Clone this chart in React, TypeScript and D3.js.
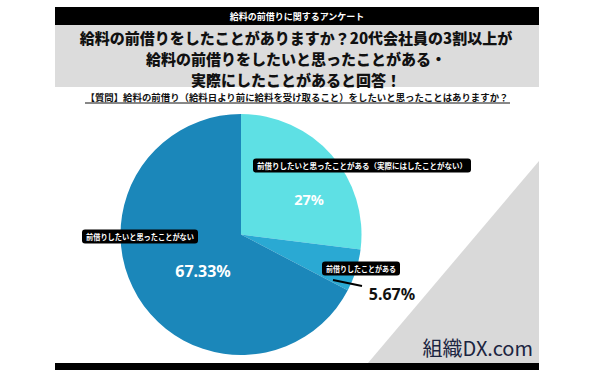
import React from "react";
import * as d3 from "d3";

const headerText = "給料の前借りに関するアンケート";
const titleLines = [
  "給料の前借りをしたことがありますか？20代会社員の3割以上が",
  "給料の前借りをしたいと思ったことがある・",
  "実際にしたことがあると回答！",
];
const questionText = "【質問】給料の前借り（給料日より前に給料を受け取ること）をしたいと思ったことはありますか？";
const categories = [
  "前借りしたいと思ったことがある（実際にはしたことがない）",
  "前借りしたことがある",
  "前借りしたいと思ったことがない",
];
const values = [27, 5.67, 67.33];
const valueLabels = ["27%", "5.67%", "67.33%"];
const colors = ["#5ee0e4", "#2aa9d3", "#1b87ba"];
const logoText = "組織DX.com";

const W = 590;
const H = 383;
const FONT = "'Noto Sans CJK JP', 'Noto Sans', sans-serif";

// label layout (offsets relative to pie center)
const labelLayout = [
  { bx: 121, by: -69, vx: 68, vy: -36, vColor: "#ffffff", tw: 210 },
  { bx: 120, by: 34, vx: 151, vy: 59, vColor: "#111111", tw: 70 },
  { bx: -101, by: 2, vx: -38, vy: 36, vColor: "#ffffff", tw: 108 },
];

export default function App() {
  const cx = 241;
  const cy = 234.5;
  const r = 120.5;
  const pie = d3
    .pie<number>()
    .sort(null)
    .value((d) => d)
    .startAngle(0)
    .endAngle(2 * Math.PI);
  const arcs = pie(values);
  const arcGen = d3.arc<d3.PieArcDatum<number>>().innerRadius(0).outerRadius(r);

  const frameX0 = 55;
  const frameX1 = 539;
  const frameCx = (frameX0 + frameX1) / 2;

  return (
    <svg
      width={W}
      height={H}
      style={{ position: "absolute", left: 0, top: 0, background: "#fff" }}
      fontFamily={FONT}
    >
      <rect x={0} y={0} width={W} height={H} fill="#fff" />
      {/* header */}
      <rect x={frameX0} y={7} width={frameX1 - frameX0} height={18} fill="#000" />
      <text x={frameCx} y={16} fill="#fff" fontSize={9} fontWeight={700} textAnchor="middle" dominantBaseline="central">
        {headerText}
      </text>
      <rect x={frameX0} y={25} width={frameX1 - frameX0} height={62} fill="#dcdcdc" />
      {titleLines.map((t, i) => (
        <text
          key={i}
          x={frameCx - 1}
          y={37 + i * 21}
          fill="#111"
          fontSize={15}
          fontWeight={900}
          textAnchor="middle"
          dominantBaseline="central"
        >
          {t}
        </text>
      ))}
      <text
        x={frameCx}
        y={97}
        fill="#111"
        fontSize={9.4}
        fontWeight={700}
        textAnchor="middle"
        dominantBaseline="central"
        textLength={423}
        lengthAdjust="spacingAndGlyphs"
      >
        {questionText}
      </text>
      <line x1={85} x2={510} y1={103} y2={103} stroke="#111" strokeWidth={1} />

      {/* gray triangle */}
      <polygon points={`${frameX1},161 ${frameX1},363 368,363`} fill="#d9d9d9" />
      <text x={533} y={356} fill="#1c2541" fontSize={20} fontFamily="'Noto Sans CJK JP', sans-serif" textAnchor="end">
        {logoText}
      </text>
      <rect x={frameX0} y={363} width={frameX1 - frameX0} height={7} fill="#000" />

      {/* pie */}
      <g transform={`translate(${cx},${cy})`}>
        {arcs.map((a, i) => (
          <path key={i} d={arcGen(a) || ""} fill={colors[i]} />
        ))}
        <line x1={92} y1={45.5} x2={121} y2={51.5} stroke="#000" strokeWidth={2} />
        {arcs.map((a, i) => {
          const L = labelLayout[i];
          const bw = L.tw + 8;
          return (
            <g key={"l" + i}>
              <rect x={L.bx - bw / 2} y={L.by - 7} width={bw} height={14} rx={3} fill="#000" />
              <text
                x={L.bx}
                y={L.by}
                fill="#fff"
                fontSize={7.5}
                fontWeight={700}
                textAnchor="middle"
                dominantBaseline="central"
                textLength={L.tw}
                lengthAdjust="spacingAndGlyphs"
              >
                {categories[i]}
              </text>
              <text
                x={L.vx}
                y={L.vy}
                fill={L.vColor}
                fontSize={i === 0 ? 14.5 : 16}
                fontWeight={700}
                textAnchor="middle"
                dominantBaseline="central"
                fontFamily="'Noto Sans', sans-serif"
              >
                {valueLabels[i]}
              </text>
            </g>
          );
        })}
      </g>
    </svg>
  );
}
